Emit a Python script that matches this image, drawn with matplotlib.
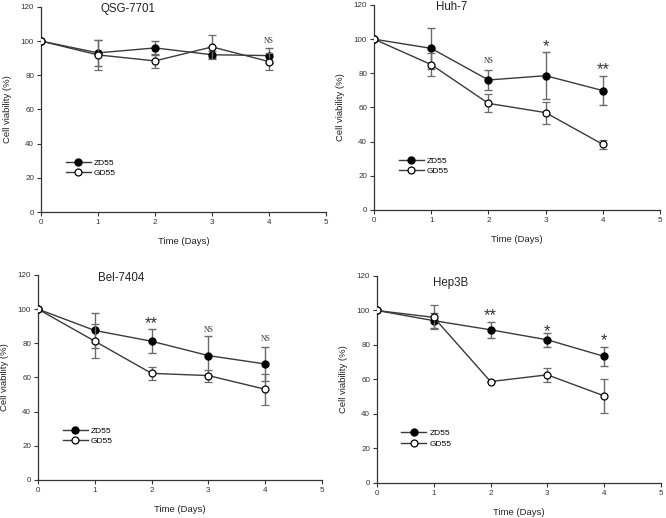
import matplotlib
matplotlib.use("Agg")
import matplotlib.pyplot as plt
from matplotlib.lines import Line2D

plt.rcParams['font.family'] = ['Liberation Sans', 'DejaVu Sans']

days = [0, 1, 2, 3, 4]
panels = ["QSG-7701", "Huh-7", "Bel-7404", "Hep3B"]

zd55 = {
    "QSG-7701": [100, 93.1, 96.0, 92.0, 91.5],
    "Huh-7":    [100, 94.6, 76.1, 78.6, 69.9],
    "Bel-7404": [100, 87.5, 81.2, 72.8, 67.9],
    "Hep3B":    [100, 94.1, 88.8, 83.0, 73.4],
}
zd55_err = {
    "QSG-7701": [0, 7.5, 4.2, 2.0, 4.5],
    "Huh-7":    [0, 12.0, 6.0, 13.6, 8.5],
    "Bel-7404": [0, 10.0, 7.0, 11.5, 10.0],
    "Hep3B":    [0, 4.5, 4.5, 4.0, 5.7],
}
gd55 = {
    "QSG-7701": [100, 91.9, 88.4, 96.6, 88.0],
    "Huh-7":    [100, 85.1, 62.4, 57.0, 38.4],
    "Bel-7404": [100, 81.2, 62.4, 61.1, 53.1],
    "Hep3B":    [100, 96.0, 58.8, 62.7, 50.5],
}
gd55_err = {
    "QSG-7701": [0, 9.0, 4.2, 7.0, 5.2],
    "Huh-7":    [0, 6.5, 5.3, 6.5, 2.5],
    "Bel-7404": [0, 10.0, 4.0, 3.5, 9.0],
    "Hep3B":    [0, 7.0, 0.5, 4.0, 9.8],
}
# significance labels: (day, y, text)
signif = {
    "QSG-7701": [(4, 100.3, "NS")],
    "Huh-7":    [(2, 87.2, "NS"), (3, 95.5, "*"), (4, 82.0, "**")],
    "Bel-7404": [(2, 91.5, "**"), (3, 87.8, "NS"), (4, 82.4, "NS")],
    "Hep3B":    [(2, 97.0, "**"), (3, 88.0, "*"), (4, 82.5, "*")],
}
title_pos = {
    "QSG-7701": (1.53, 119),
    "Huh-7":    (1.35, 119),
    "Bel-7404": (1.46, 118),
    "Hep3B":    (1.30, 116),
}
axes_rects = {
    "QSG-7701": [0.0616, 0.5907, 0.428, 0.396],
    "Huh-7":    [0.5616, 0.5946, 0.4294, 0.3958],
    "Bel-7404": [0.0571, 0.0734, 0.4264, 0.3958],
    "Hep3B":    [0.566, 0.0676, 0.4264, 0.3996],
}

fig = plt.figure(figsize=(6.66, 5.18), dpi=100)
line_c = "#3a3a3a"
err_c = "#6a6a6a"

for name in panels:
    ax = fig.add_axes(axes_rects[name])
    ax.errorbar(days, zd55[name], yerr=zd55_err[name], color=line_c, ecolor=err_c,
                elinewidth=1.0, capsize=3, capthick=1.0, lw=1.0,
                marker='o', ms=5, mfc='black', mec='black', zorder=3)
    ax.errorbar(days, gd55[name], yerr=gd55_err[name], color=line_c, ecolor=err_c,
                elinewidth=1.0, capsize=3, capthick=1.0, lw=1.0,
                marker='o', ms=5, mfc='white', mec='black', mew=0.9, zorder=4)
    for d, y, t in signif[name]:
        if t == "NS":
            ax.text(d, y, t, ha='center', va='center', fontsize=5.5,
                    family=['Liberation Serif', 'DejaVu Serif'], color='#333333')
        else:
            ax.text(d, y, t, ha='center', va='center', fontsize=12, color='#333333')
    tx, ty = title_pos[name]
    ax.text(tx, ty, name, ha='center', va='center', fontsize=8.3, color='#222222')
    ax.set_xlim(0, 5)
    ax.set_ylim(0, 120)
    ax.set_xticks(range(0, 6))
    ax.set_yticks(range(0, 121, 20))
    ax.spines['top'].set_visible(False)
    ax.spines['right'].set_visible(False)
    for s in ('left', 'bottom'):
        ax.spines[s].set_color('#333333')
        ax.spines[s].set_linewidth(0.9)
    ax.tick_params(axis='both', direction='out', length=3, width=0.8, colors='#333333',
                   labelsize=5.8, pad=2)
    ax.set_xlabel("Time (Days)", fontsize=6.8, color='#222222', labelpad=8)
    ax.set_ylabel("Cell viability (%)", fontsize=6.8, color='#222222', labelpad=6)
    handles = [
        Line2D([], [], color=line_c, lw=1.0, marker='o', ms=5, mfc='black', mec='black'),
        Line2D([], [], color=line_c, lw=1.0, marker='o', ms=5, mfc='white', mec='black', mew=0.9),
    ]
    ax.legend(handles, ['ZD55', 'GD55'], loc='center left', bbox_to_anchor=(0.06, 0.215),
              frameon=False, fontsize=6, handlelength=3.0, handletextpad=0.4,
              labelspacing=0.3)

fig.savefig("out.png", dpi=100)
